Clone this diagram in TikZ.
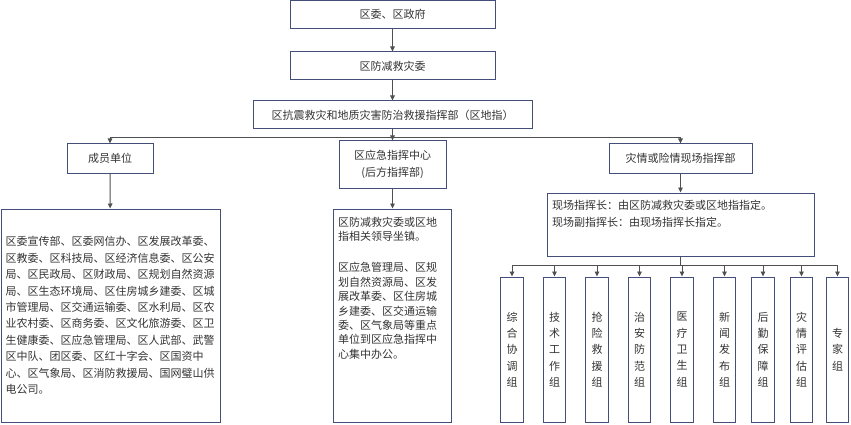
\documentclass[tikz,border=0pt]{standalone}
\usepackage{fontspec}
\setmainfont{Noto Sans CJK SC}
\usepackage{xcolor}
\usepackage{tikz}
\usetikzlibrary{arrows.meta}
\definecolor{boxline}{RGB}{68,78,120}
\definecolor{arrline}{RGB}{80,80,80}
\definecolor{txt}{RGB}{51,51,51}

\begin{document}
\begin{tikzpicture}[x=1pt,y=-1pt,
  box/.style={draw=boxline, line width=1pt, text=txt, inner sep=0pt, font=\fontsize{11pt}{17pt}\selectfont},
  arr/.style={draw=arrline, line width=0.9pt, -{Triangle[length=5pt,width=4.5pt]}},
  lin/.style={draw=arrline, line width=0.9pt}]
\useasboundingbox (0,0) rectangle (851,425);

\node[box, minimum width=205, minimum height=28] (qw) at (392.5,14.5) {区委、区政府};
\node[box, minimum width=205, minimum height=28] (fjz) at (392.5,66) {区防减救灾委};
\node[box, minimum width=279, minimum height=28] (ddz) at (392.5,115) {区抗震救灾和地质灾害防治救援指挥部（区地指）};

\node[box, minimum width=86, minimum height=29] (cydw) at (110,158.5) {成员单位};
\node[box, minimum width=107, minimum height=47, align=center] (yjzx) at (392.5,164.5) {区应急指挥中心\\(后方指挥部)};
\node[box, minimum width=143, minimum height=29] (xcz) at (680.5,158.5) {灾情或险情现场指挥部};

\node[box, minimum width=219, minimum height=213, text width=210, align=left,
  font=\fontsize{11pt}{16.4pt}\selectfont] (cyt) at (110.5,315.5) {%
区委宣传部、区委网信办、区发展改革委、\\
区教委、区科技局、区经济信息委、区公安\\
局、区民政局、区财政局、区规划自然资源\\
局、区生态环境局、区住房城乡建委、区城\\
市管理局、区交通运输委、区水利局、区农\\
业农村委、区商务委、区文化旅游委、区卫\\
生健康委、区应急管理局、区人武部、武警\\
区中队、团区委、区红十字会、区国资中\\
心、区气象局、区消防救援局、国网璧山供\\
电公司。};

\node[box, minimum width=118, minimum height=213] (yjt) at (392.5,315.5) {};
\node[anchor=north west, align=left, inner sep=0pt, text=txt,
  font=\fontsize{11pt}{14.4pt}\selectfont] (yjtxt) at (338,216.5) {%
区防减救灾委或区地\\
指相关领导坐镇。\\[17pt]
区应急管理局、区规\\
划自然资源局、区发\\
展改革委、区住房城\\
乡建委、区交通运输\\
委、区气象局等重点\\
单位到区应急指挥中\\
心集中办公。};

\node[box, minimum width=267, minimum height=63] (xct) at (680.5,224.5) {};
\node[anchor=north west, align=left, inner sep=0pt, text=txt,
  font=\fontsize{11pt}{17pt}\selectfont] (xctxt) at (552,199.5) {%
现场指挥长：由区防减救灾委或区地指指定。\\
现场副指挥长：由现场指挥长指定。};

\foreach \i/\x/\t in {1/512/{综\\合\\协\\调\\组}, 2/554.5/{技\\术\\工\\作\\组},
    3/597/{抢\\险\\救\\援\\组}, 4/639.5/{治\\安\\防\\范\\组}, 5/682/{医\\疗\\卫\\生\\组},
    6/724.5/{新\\闻\\发\\布\\组}, 7/763/{后\\勤\\保\\障\\组}, 8/801.5/{灾\\情\\评\\估\\组},
    9/837.5/{专\\家\\组}}
  \node[box, minimum width=22.5, minimum height=145, align=center,
    font=\fontsize{11pt}{16.3pt}\selectfont] (g\i) at (\x,349.5) {\t};

% connectors
\coordinate (bus) at (392.5,137);
\coordinate (bus2) at (680.5,265);
\draw[arr] (qw) -- (fjz);
\draw[arr] (fjz) -- (ddz);
\draw[arr] (ddz) -- (yjzx);
\draw[lin] (bus) -- (bus -| cydw);
\draw[lin] (bus) -- (bus -| xcz);
\draw[arr] (bus -| cydw) -- (cydw);
\draw[arr] (bus -| xcz) -- (xcz);
\draw[arr] (cydw) -- (cyt);
\draw[arr] (yjzx) -- (yjt);
\draw[arr] (xcz) -- (xct);
\draw[lin] (xct) -- (bus2);
\draw[lin] (bus2 -| g1) -- (bus2 -| g9);
\foreach \i in {1,...,9}
  \draw[arr] (bus2 -| g\i) -- (g\i);

\end{tikzpicture}
\end{document}
